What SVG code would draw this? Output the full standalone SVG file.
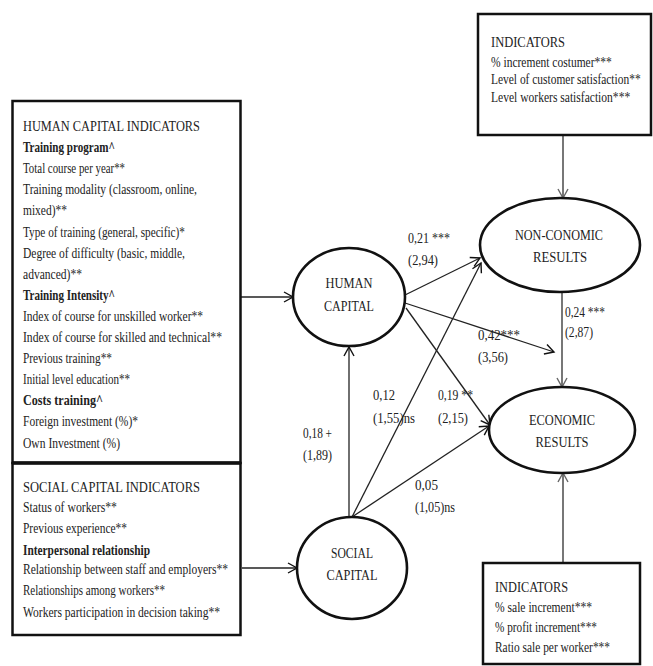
<svg xmlns="http://www.w3.org/2000/svg" width="653" height="666" viewBox="0 0 653 666">
<defs>
<marker id="arr" markerUnits="userSpaceOnUse" markerWidth="12" markerHeight="12" refX="10" refY="6" orient="auto" viewBox="0 0 12 12">
<path d="M1,1 L10,6 L1,11" fill="none" stroke="#111" stroke-width="1.4"/>
</marker>
<marker id="arrg" markerUnits="userSpaceOnUse" markerWidth="12" markerHeight="12" refX="10" refY="6" orient="auto" viewBox="0 0 12 12">
<path d="M1,1 L10,6 L1,11" fill="none" stroke="#666" stroke-width="1.4"/>
</marker>
</defs>
<style>
text{font-family:"Liberation Serif","Times New Roman",serif;font-size:15px;fill:#222}
.b{font-weight:bold}
.box{fill:#fff;stroke:#111;stroke-width:2.5}
.node{fill:#fff;stroke:#111;stroke-width:2.6}
.c{fill:none;stroke:#222;stroke-width:1.3}
.g{fill:none;stroke:#777;stroke-width:2}
.lbl{font-size:14.5px}
</style>
<rect width="653" height="666" fill="#fff"/>

<g id="connectors">
<line class="c" x1="240" y1="297" x2="293" y2="297" marker-end="url(#arr)"/>
<line class="c" x1="242" y1="568" x2="297" y2="568" marker-end="url(#arr)"/>
<line class="c" x1="405" y1="295" x2="480" y2="258" marker-end="url(#arr)"/>
<line class="c" x1="405" y1="303" x2="554" y2="352" marker-end="url(#arr)"/>
<line class="c" x1="406" y1="308" x2="490" y2="425" marker-end="url(#arr)"/>
<line class="c" x1="349" y1="517" x2="349" y2="347" marker-end="url(#arr)"/>
<line class="c" x1="352" y1="517" x2="481" y2="263" marker-end="url(#arr)"/>
<line class="c" x1="352" y1="517" x2="489" y2="426" marker-end="url(#arr)"/>
<line class="g" x1="562" y1="293" x2="562" y2="387" marker-end="url(#arrg)"/>
<line class="g" x1="563" y1="136" x2="563" y2="198" marker-end="url(#arrg)"/>
<line class="g" x1="563" y1="563" x2="563" y2="473" marker-end="url(#arrg)"/>
<text class="lbl" x="408" y="243" textLength="42" lengthAdjust="spacingAndGlyphs">0,21 ***</text>
<text class="lbl" x="408" y="265" textLength="30" lengthAdjust="spacingAndGlyphs">(2,94)</text>
<text class="lbl" x="478" y="340" textLength="42" lengthAdjust="spacingAndGlyphs">0,42***</text>
<text class="lbl" x="478" y="362" textLength="30" lengthAdjust="spacingAndGlyphs">(3,56)</text>
<text class="lbl" x="565" y="317" textLength="40" lengthAdjust="spacingAndGlyphs">0,24 ***</text>
<text class="lbl" x="565" y="337" textLength="28" lengthAdjust="spacingAndGlyphs">(2,87)</text>
<text class="lbl" x="373" y="400" textLength="22" lengthAdjust="spacingAndGlyphs">0,12</text>
<text class="lbl" x="373" y="423" textLength="42" lengthAdjust="spacingAndGlyphs">(1,55)ns</text>
<text class="lbl" x="438" y="400" textLength="35" lengthAdjust="spacingAndGlyphs">0,19 **</text>
<text class="lbl" x="438" y="423" textLength="30" lengthAdjust="spacingAndGlyphs">(2,15)</text>
<text class="lbl" x="303" y="438" textLength="29" lengthAdjust="spacingAndGlyphs">0,18 +</text>
<text class="lbl" x="303" y="460" textLength="29" lengthAdjust="spacingAndGlyphs">(1,89)</text>
<text class="lbl" x="415" y="490" textLength="23" lengthAdjust="spacingAndGlyphs">0,05</text>
<text class="lbl" x="415" y="512" textLength="40" lengthAdjust="spacingAndGlyphs">(1,05)ns</text>
</g>

<g id="human-indicators">
<rect class="box" x="12.5" y="101" width="228" height="362"/>
<text x="23" y="131" textLength="177" lengthAdjust="spacingAndGlyphs">HUMAN CAPITAL INDICATORS</text>
<text class="b" x="23" y="152" textLength="92" lengthAdjust="spacingAndGlyphs">Training program^</text>
<text x="23" y="173" textLength="102" lengthAdjust="spacingAndGlyphs">Total course per year**</text>
<text x="23" y="194" textLength="174" lengthAdjust="spacingAndGlyphs">Training modality (classroom, online,</text>
<text x="23" y="215" textLength="44" lengthAdjust="spacingAndGlyphs">mixed)**</text>
<text x="23" y="237" textLength="162" lengthAdjust="spacingAndGlyphs">Type of training (general, specific)*</text>
<text x="23" y="258" textLength="162" lengthAdjust="spacingAndGlyphs">Degree of difficulty (basic, middle,</text>
<text x="23" y="279" textLength="59" lengthAdjust="spacingAndGlyphs">advanced)**</text>
<text class="b" x="23" y="300" textLength="92" lengthAdjust="spacingAndGlyphs">Training Intensity^</text>
<text x="23" y="321" textLength="180" lengthAdjust="spacingAndGlyphs">Index of course for unskilled worker**</text>
<text x="23" y="342" textLength="199" lengthAdjust="spacingAndGlyphs">Index of course for skilled and technical**</text>
<text x="23" y="363" textLength="89" lengthAdjust="spacingAndGlyphs">Previous training**</text>
<text x="23" y="384" textLength="107" lengthAdjust="spacingAndGlyphs">Initial level education**</text>
<text class="b" x="23" y="405" textLength="80" lengthAdjust="spacingAndGlyphs">Costs training^</text>
<text x="23" y="426" textLength="115" lengthAdjust="spacingAndGlyphs">Foreign investment (%)*</text>
<text x="23" y="448" textLength="97" lengthAdjust="spacingAndGlyphs">Own Investment (%)</text>
</g>

<g id="social-indicators">
<rect class="box" x="12.5" y="463" width="228" height="172"/>
<line x1="12.5" y1="463" x2="240.5" y2="463" stroke="#111" stroke-width="3.5"/>
<text x="23" y="492" textLength="177" lengthAdjust="spacingAndGlyphs">SOCIAL CAPITAL INDICATORS</text>
<text x="23" y="512" textLength="94" lengthAdjust="spacingAndGlyphs">Status of workers**</text>
<text x="23" y="533" textLength="104" lengthAdjust="spacingAndGlyphs">Previous experience**</text>
<text class="b" x="23" y="555" textLength="127" lengthAdjust="spacingAndGlyphs">Interpersonal relationship</text>
<text x="23" y="574" textLength="205" lengthAdjust="spacingAndGlyphs">Relationship between staff and employers**</text>
<text x="23" y="595" textLength="142" lengthAdjust="spacingAndGlyphs">Relationships among workers**</text>
<text x="23" y="617" textLength="197" lengthAdjust="spacingAndGlyphs">Workers participation in decision taking**</text>
</g>

<g id="nonecon-indicators">
<rect class="box" x="478" y="14" width="173" height="121"/>
<text x="491" y="47" textLength="74" lengthAdjust="spacingAndGlyphs">INDICATORS</text>
<text transform="translate(491 67) scale(0.8 1)" x="0" y="0" textLength="151" lengthAdjust="spacingAndGlyphs">% increment costumer***</text>
<text transform="translate(491 84) scale(0.8 1)" x="0" y="0" textLength="187" lengthAdjust="spacingAndGlyphs">Level of customer satisfaction**</text>
<text transform="translate(491 102) scale(0.8 1)" x="0" y="0" textLength="174" lengthAdjust="spacingAndGlyphs">Level workers satisfaction***</text>
</g>

<g id="econ-indicators">
<rect class="box" x="483" y="563" width="157" height="101"/>
<text x="495" y="592" textLength="73" lengthAdjust="spacingAndGlyphs">INDICATORS</text>
<text x="495" y="612" textLength="97" lengthAdjust="spacingAndGlyphs">% sale increment***</text>
<text x="495" y="632" textLength="102" lengthAdjust="spacingAndGlyphs">% profit increment***</text>
<text x="495" y="652" textLength="115" lengthAdjust="spacingAndGlyphs">Ratio sale per worker***</text>
</g>

<g id="human-capital">
<ellipse class="node" cx="349" cy="297" rx="56" ry="49"/>
<text x="349" y="288" text-anchor="middle" textLength="47" lengthAdjust="spacingAndGlyphs">HUMAN</text>
<text x="349" y="311" text-anchor="middle" textLength="50" lengthAdjust="spacingAndGlyphs">CAPITAL</text>
</g>

<g id="social-capital">
<ellipse class="node" cx="352" cy="568" rx="55" ry="51"/>
<text x="352" y="558" text-anchor="middle" textLength="42" lengthAdjust="spacingAndGlyphs">SOCIAL</text>
<text x="352" y="580" text-anchor="middle" textLength="51" lengthAdjust="spacingAndGlyphs">CAPITAL</text>
</g>

<g id="non-economic-results">
<ellipse class="node" cx="560" cy="245" rx="80" ry="47"/>
<text x="559" y="240" text-anchor="middle" textLength="88" lengthAdjust="spacingAndGlyphs">NON-CONOMIC</text>
<text x="560" y="262" text-anchor="middle" textLength="54" lengthAdjust="spacingAndGlyphs">RESULTS</text>
</g>

<g id="economic-results">
<ellipse class="node" cx="562" cy="430" rx="73" ry="43"/>
<text x="562" y="425" text-anchor="middle" textLength="66" lengthAdjust="spacingAndGlyphs">ECONOMIC</text>
<text x="562" y="447" text-anchor="middle" textLength="53" lengthAdjust="spacingAndGlyphs">RESULTS</text>
</g>
</svg>
